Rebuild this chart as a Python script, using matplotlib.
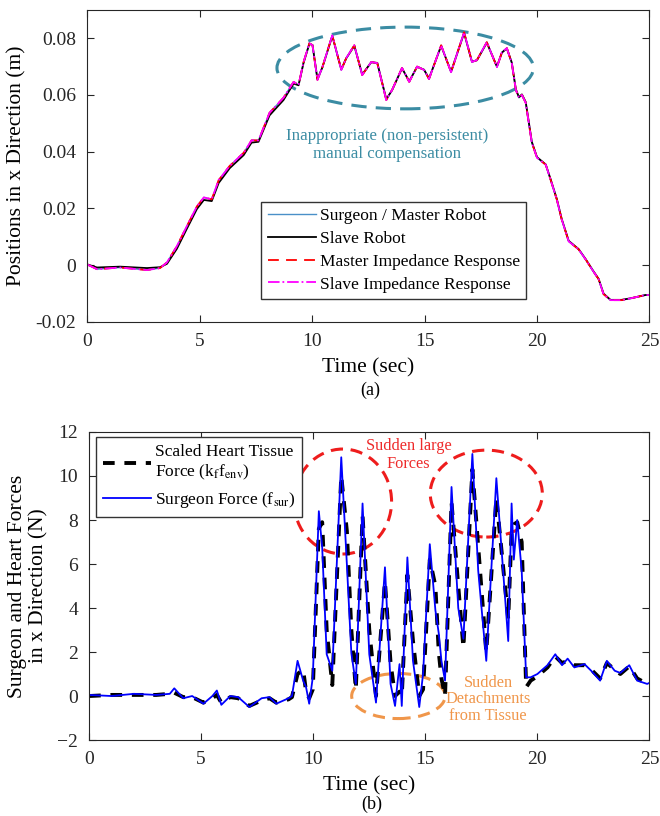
import numpy as np
import matplotlib.pyplot as plt
from matplotlib.patches import Ellipse

plt.rcParams['font.family'] = ['Liberation Serif', 'DejaVu Serif']
plt.rcParams['mathtext.fontset'] = 'stix'

# (a) positions in x direction
t_pos = [0, 0.44, 1.46, 2.66, 3.24, 3.55, 3.99, 4.43, 4.88, 5.19, 5.54, 5.85, 6.34, 6.96,
         7.31, 7.62, 8.11, 8.73, 9.18, 9.4, 9.62, 9.88, 10.02, 10.24, 10.46, 10.9, 11.3,
         11.52, 11.88, 12.23, 12.63, 12.9, 13.3, 13.56, 14.0, 14.32, 14.67, 14.98, 15.2,
         15.74, 16.18, 16.76, 17.11, 17.33, 17.77, 18.22, 18.44, 18.66, 18.88, 19.06, 19.2,
         19.33, 19.5, 19.77, 20.0, 20.39, 20.61, 20.88, 21.1, 21.41, 21.85, 22.16, 22.5,
         22.74, 22.96, 23.27, 23.76, 24.2, 24.82, 25]
master_pos = [0.0003, -0.0014, -0.0008, -0.0017, -0.0010, 0.0010, 0.0067, 0.0137, 0.0207,
              0.0239, 0.0232, 0.0300, 0.0350, 0.0396, 0.0440, 0.0440, 0.0537, 0.0590, 0.0646,
              0.0635, 0.0715, 0.0782, 0.0775, 0.0653, 0.0698, 0.0810, 0.0688, 0.0730, 0.0775,
              0.0670, 0.0716, 0.0712, 0.0582, 0.0618, 0.0695, 0.0646, 0.0700, 0.0688, 0.0656,
              0.0775, 0.0680, 0.0821, 0.0716, 0.0723, 0.0786, 0.0698, 0.0750, 0.0765, 0.0712,
              0.0618, 0.0590, 0.0600, 0.0572, 0.0432, 0.0379, 0.0354, 0.0300, 0.0232, 0.0161,
              0.0084, 0.0056, 0.0021, -0.0021, -0.0049, -0.0102, -0.0123, -0.0123, -0.0116,
              -0.0105, -0.0105]
slave_pos = [0.0003, -0.0008, -0.0005, -0.0010, -0.0007, 0.0005, 0.0058, 0.0128, 0.0198,
             0.0230, 0.0226, 0.0290, 0.0342, 0.0388, 0.0432, 0.0435, 0.0528, 0.0582, 0.0640,
             0.0634, 0.0712, 0.0780, 0.0776, 0.0656, 0.0697, 0.0808, 0.0690, 0.0729, 0.0773,
             0.0672, 0.0715, 0.0713, 0.0585, 0.0617, 0.0694, 0.0648, 0.0699, 0.0689, 0.0658,
             0.0773, 0.0682, 0.0818, 0.0717, 0.0722, 0.0784, 0.0700, 0.0749, 0.0764, 0.0714,
             0.0620, 0.0592, 0.0602, 0.0575, 0.0435, 0.0381, 0.0355, 0.0302, 0.0234, 0.0163,
             0.0086, 0.0057, 0.0022, -0.0020, -0.0048, -0.0100, -0.0122, -0.0122, -0.0116,
             -0.0105, -0.0105]

# (b) forces
t_f = [0, 1, 2, 3, 3.6, 3.8, 4.2, 4.6, 5.1, 5.5, 5.7, 5.9, 6.3, 6.65, 7.15, 7.7, 8.05, 8.35,
       8.9, 9.05, 9.3, 9.55, 9.68, 9.82, 9.98, 10.25, 10.4, 10.6, 10.85, 11.25, 11.5, 11.7,
       11.9, 12.2, 12.5, 12.8, 13.2, 13.45, 13.65, 13.85, 13.95, 14.2, 14.45, 14.73, 14.9,
       15.2, 15.45, 15.6, 15.72, 15.88, 16.17, 16.47, 16.7, 17.1, 17.36, 17.72, 18.17, 18.7,
       18.85, 18.95, 19.1, 19.3, 19.5, 19.7, 20.0, 20.45, 20.8, 21.1, 21.35, 21.65, 22.1,
       22.4, 22.8, 23.1, 23.45, 23.7, 24.1, 24.45, 24.9, 25]
f_sur = [0.05, 0.0, 0.1, 0.05, 0.1, 0.35, -0.1, 0.0, -0.35, 0.0, 0.25, -0.4, 0.0, -0.05,
         -0.5, -0.1, -0.05, -0.35, -0.1, 0.0, 1.6, 0.7, 0.4, -0.35, 0.85, 8.4, 6.75, 1.9,
         1.15, 10.85, 6.0, 1.95, 0.55, 8.75, 1.9, -0.3, 5.85, 0.55, -0.45, 1.45, -0.45, 6.3,
         1.6, -0.5, 1.0, 6.9, 3.9, 2.85, 1.6, 0.7, 9.5, 4.0, 2.6, 11.0, 5.7, 1.6, 9.9, 2.5,
         8.75, 6.2, 8.0, 5.7, 0.85, 0.85, 1.0, 1.4, 1.9, 1.4, 1.7, 1.3, 1.45, 1.15, 0.7, 1.6,
         1.15, 1.05, 1.4, 0.7, 0.55, 0.6]
f_env = [0.0, 0.05, 0.05, 0.05, 0.1, 0.15, -0.05, -0.05, -0.3, -0.1, 0.05, -0.3, -0.05,
         -0.1, -0.45, -0.2, -0.1, -0.3, -0.15, -0.05, 1.0, 1.2, 0.2, -0.1, 0.3, 7.6, 7.9,
         3.0, 0.5, 10.0, 7.5, 3.0, 0.3, 8.2, 3.0, 0.0, 5.2, 1.5, 0.0, 0.2, 0.0, 5.5, 2.5,
         0.0, 0.3, 6.2, 5.0, 2.0, 0.8, 0.0, 8.8, 5.0, 2.2, 10.3, 6.8, 2.0, 9.0, 3.5, 7.5,
         7.8, 7.9, 7.0, 0.4, 0.7, 0.9, 1.3, 1.8, 1.5, 1.6, 1.4, 1.4, 1.2, 0.8, 1.5, 1.2,
         1.0, 1.35, 0.8, 0.55, 0.6]

teal = '#3b8ca3'
orange = '#f0964a'

fig = plt.figure(figsize=(6.6, 8.16), dpi=100)
ax1 = fig.add_axes([0.132, 0.6054, 0.852, 0.3826])
ax2 = fig.add_axes([0.135, 0.0931, 0.849, 0.3775])

#top plot
ax1.plot(t_pos, master_pos, color='#4a90c8', lw=1.0, label='Surgeon / Master Robot')
ax1.plot(t_pos, slave_pos, color='black', lw=1.3, label='Slave Robot')
ax1.plot(t_pos, master_pos, color='red', lw=1.3, ls=(0, (6, 4)), label='Master Impedance Response')
ax1.plot(t_pos, master_pos, color='magenta', lw=1.3, ls='-.', label='Slave Impedance Response')
ax1.add_patch(Ellipse((14.14, 0.0695), 11.4, 0.0288, fill=False, ec=teal, lw=2.2, ls=(0, (5, 3))))
ax1.text(13.34, 0.0425, 'Inappropriate (non-persistent)\nmanual compensation', color=teal,
         fontsize=12.2, ha='center', va='center', linespacing=1.15)
ax1.set_xlim(0, 25)
ax1.set_ylim(-0.02, 0.09)
ax1.set_yticks([-0.02, 0, 0.02, 0.04, 0.06, 0.08])
ax1.set_yticklabels(['-0.02', '0', '0.02', '0.04', '0.06', '0.08'])
ax1.set_xlabel('Time (sec)', fontsize=15.5, labelpad=6)
ax1.set_ylabel('Positions in x Direction (m)', fontsize=15.5, labelpad=6)
ax1.legend(loc='lower left', bbox_to_anchor=(0.31, 0.075), fontsize=12.5, frameon=True,
           fancybox=False, edgecolor='#333333', framealpha=1, handlelength=2.8,
           borderpad=0.35, labelspacing=0.38, handletextpad=0.2, borderaxespad=0)

#bottom plot
ax2.plot(t_f, f_env, color='black', lw=2.8, ls=(0, (3, 2.5)), label='Scaled Heart Tissue\nForce (k$_\\mathrm{f}$f$_\\mathrm{env}$)')
ax2.plot(t_f, f_sur, color='#0000ff', lw=1.3, label='Surgeon Force (f$_\\mathrm{sur}$)')
ax2.add_patch(Ellipse((11.32, 8.84), 4.35, 4.77, fill=False, ec='#ee1c1c', lw=2.2, ls=(0, (4, 2.5))))
ax2.add_patch(Ellipse((17.72, 9.2), 5.0, 3.95, fill=False, ec='#ee1c1c', lw=2.2, ls=(0, (4, 2.5))))
ax2.add_patch(Ellipse((13.8, 0.0), 4.17, 2.05, fill=False, ec=orange, lw=2.2, ls=(0, (4, 2.5))))
ax2.text(14.25, 10.95, 'Sudden large\nForces', color='#ee2a2a', fontsize=11.8, ha='center',
         va='center', linespacing=1.1)
ax2.text(17.8, -0.15, 'Sudden\nDetachments\nfrom Tissue', color=orange, fontsize=11.8,
         ha='center', va='center', linespacing=1.05)
ax2.set_xlim(0, 25)
ax2.set_ylim(-2, 12)
ax2.set_yticks(np.arange(-2, 13, 2))
ax2.set_xlabel('Time (sec)', fontsize=15.5, labelpad=6)
ax2.set_ylabel('Surgeon and Heart Forces\nin x Direction (N)', fontsize=15.5, labelpad=6)
ax2.legend(loc='upper left', bbox_to_anchor=(0.012, 0.984), fontsize=12.5, frameon=True,
           fancybox=False, edgecolor='#333333', framealpha=1, handlelength=2.8,
           borderpad=0.4, labelspacing=0.45, handletextpad=0.2, borderaxespad=0)

for ax in (ax1, ax2):
    ax.set_xticks([0, 5, 10, 15, 20, 25])
    ax.tick_params(direction='in', top=True, right=True, labelsize=14, length=5, width=0.8,
                   colors='#262626', pad=8)
    for s in ax.spines.values():
        s.set_color('#262626')
        s.set_linewidth(0.8)

fig.text(0.561, 0.522, '(a)', fontsize=13, ha='center', va='center')
fig.text(0.564, 0.014, '(b)', fontsize=13, ha='center', va='center')

plt.savefig('out.png', dpi=100)
